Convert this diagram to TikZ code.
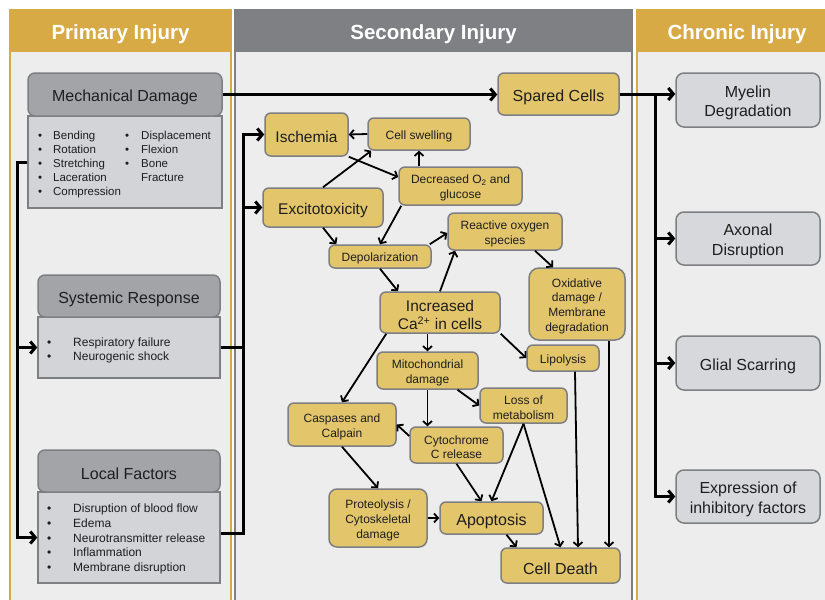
\documentclass[tikz,border=0pt]{standalone}
\usepackage{fontspec}
\setmainfont{Liberation Sans}
\usetikzlibrary{arrows.meta,calc}
\definecolor{gold}{RGB}{216,170,70}
\definecolor{hdgray}{RGB}{126,128,132}
\definecolor{bg}{RGB}{237,237,237}
\definecolor{bord}{RGB}{125,127,130}
\definecolor{ygold}{RGB}{227,197,108}
\definecolor{dkbox}{RGB}{162,164,167}
\definecolor{ltbox}{RGB}{210,212,215}
\definecolor{chbox}{RGB}{214,216,219}
\definecolor{txt}{RGB}{30,30,30}
\newcommand\myBig{\fontsize{16}{19}\selectfont}
\newcommand\myMid{\fontsize{15.5}{18}\selectfont}
\newcommand\mySm{\fontsize{12}{14.8}\selectfont}
\newcommand\myDn{\rule{0pt}{1.1em}}
\tikzset{
 hdtext/.style={text=white, font=\bfseries\fontsize{20.5}{24}\selectfont, anchor=base, inner sep=0pt},
 wh/.style 2 args={minimum width=#1pt, minimum height=#2pt},
 ybox/.style={draw=bord, fill=ygold, line width=1.5pt, rounded corners=6pt, align=center, inner sep=0pt, text=txt, execute at begin node=\myDn},
 gbox/.style={draw=bord, fill=dkbox, line width=1.5pt, rounded corners=7pt, inner sep=0pt, text=txt, font=\myBig, execute at begin node=\myDn},
 lbox/.style={draw=bord, fill=ltbox, line width=1.5pt, inner sep=0pt},
 cbox/.style={draw=bord, fill=chbox, line width=1.5pt, rounded corners=8pt, align=center, inner sep=0pt, text=txt, font=\fontsize{16}{19.5}\selectfont, execute at begin node=\myDn},
 ltext/.style={inner sep=0pt, anchor=base west, text=txt},
 thk/.style={line width=3pt, -{Straight Barb[length=5pt,width=12pt]}},
 thkl/.style={line width=3pt},
 thn/.style={line width=1.8pt, -{Straight Barb[length=4pt,width=9pt]}},
}
\begin{document}
\begin{tikzpicture}[x=1pt,y=-1pt]
\useasboundingbox (0,0) rectangle (825,600);
\fill[white] (0,0) rectangle (825,600);
% panels
\fill[bg] (10,10) rectangle (231,606);
\fill[gold] (10,10) rectangle (231,52);
\draw[gold, line width=1.5pt] (10,10) rectangle (231,606);
\fill[bg] (235,10) rectangle (632,606);
\fill[hdgray] (235,10) rectangle (632,52);
\draw[bord, line width=1.5pt] (235,10) rectangle (632,606);
\fill[bg] (637,10) rectangle (840,606);
\fill[gold] (637,10) rectangle (840,52);
\draw[gold, line width=1.5pt] (637,10) rectangle (840,606);
\node[hdtext] (h1) at (120.5,39.5) {Primary Injury};
\node[hdtext] (h2) at (433.5,39.5) {Secondary Injury};
\node[hdtext] (h3) at (737,39.5) {Chronic Injury};

% primary
\node[lbox, wh={194}{92}] (mechl) at (125,162) {};
\node[gbox, wh={194}{43}] (mech) at (125,94.5) {Mechanical Damage};
\node[ltext, font=\fontsize{11.5}{14}\selectfont] (mechA) at (38,139) {\begin{tabular}[t]{@{}p{15pt}@{}l@{}}•&Bending\\•&Rotation\\•&Stretching\\•&Laceration\\•&Compression\end{tabular}};
\node[ltext, font=\fontsize{11.5}{14}\selectfont] (mechB) at (125,139) {\begin{tabular}[t]{@{}p{16pt}@{}l@{}}•&Displacement\\•&Flexion\\•&Bone\\&Fracture\end{tabular}};

\node[lbox, wh={182}{61}] (sysl) at (129,347.5) {};
\node[gbox, wh={182}{42}] (sys) at (129,296) {Systemic Response};
\node[ltext, font=\fontsize{12}{14}\selectfont] (sysA) at (47,346) {\begin{tabular}[t]{@{}p{26pt}@{}l@{}}•&Respiratory failure\\•&Neurogenic shock\end{tabular}};

\node[lbox, wh={182}{91}] (locl) at (129,537.5) {};
\node[gbox, wh={182}{42}] (loc) at (129,471) {Local Factors};
\node[ltext, font=\fontsize{12}{14.75}\selectfont] (locA) at (47,512.5) {\begin{tabular}[t]{@{}p{26pt}@{}l@{}}•&Disruption of blood flow\\•&Edema\\•&Neurotransmitter release\\•&Inflammation\\•&Membrane disruption\end{tabular}};

% secondary
\node[ybox, wh={121}{42}, font=\myBig] (spared) at (558.5,94) {Spared Cells};
\node[ybox, wh={83}{43}, font=\myMid] (isch) at (306.5,134.5) {Ischemia};
\node[ybox, wh={102}{32}, font=\mySm] (swell) at (419,134) {Cell swelling};
\node[ybox, wh={123}{38}, font=\mySm] (decr) at (460.5,186) {\myDn Decreased O\textsubscript{2} and\\glucose};
\node[ybox, wh={120}{39}, font=\myMid] (excit) at (323,207.5) {Excitotoxicity};
\node[ybox, wh={114}{37}, font=\mySm] (ros) at (505,231.5) {\myDn Reactive oxygen\\species};
\node[ybox, wh={102}{23}, font=\mySm] (depol) at (380,256.5) {Depolarization};
\node[ybox, wh={120}{41}, font=\myMid] (ca) at (440,312.5) {\myDn Increased\\Ca\textsuperscript{2+} in cells};
\node[ybox, wh={96}{72}, font=\mySm, rounded corners=10pt] (oxid) at (577,304) {\myDn Oxidative\\damage /\\Membrane\\degradation};
\node[ybox, wh={72}{26}, font=\mySm] (lipo) at (563,358) {Lipolysis};
\node[ybox, wh={101}{37}, font=\mySm] (mito) at (427.5,370.5) {\myDn Mitochondrial\\damage};
\node[ybox, wh={87}{35}, font=\mySm] (loss) at (523.5,405.5) {\myDn Loss of\\metabolism};
\node[ybox, wh={108}{43}, font=\mySm] (casp) at (342,424.5) {\myDn Caspases and\\Calpain};
\node[ybox, wh={93}{36}, font=\mySm] (cyto) at (456.5,445) {\myDn Cytochrome\\C release};
\node[ybox, wh={98}{58}, font=\mySm, rounded corners=8pt] (prot) at (378,518) {\myDn Proteolysis /\\Cytoskeletal\\damage};
\node[ybox, wh={103}{32}, font=\myBig] (apop) at (491.5,518) {Apoptosis};
\node[ybox, wh={119}{35}, font=\myBig] (death) at (560.5,565.5) {Cell Death};

% chronic
\node[cbox, wh={144}{54}] (myel) at (748,100) {\myDn Myelin\\Degradation};
\node[cbox, wh={144}{53}] (axon) at (748,238.5) {\myDn Axonal\\Disruption};
\node[cbox, wh={144}{54}] (glial) at (748,363) {Glial Scarring};
\node[cbox, wh={144}{53}] (expr) at (748,496.5) {\myDn Expression of\\inhibitory factors};

% thick connectors
\coordinate (lb) at (17,0);
\coordinate (rb) at (243,0);
\coordinate (cb) at (655,0);
\draw[thk] (mechl.west) -| (lb |- sysl.west) -- (sysl.west);
\draw[thk] (mechl.west) -| (lb |- locl.west) -- (locl.west);
\draw[thk] ([yshift=4pt]locl.east) -| (rb |- isch.west) -- (isch.west);
\draw[thkl] (sysl.east) -- (rb |- sysl.east);
\draw[thk] (rb |- excit.west) -- (excit.west);
\draw[thk] (mech.east) -- (mech.east -| spared.west);
\draw[thk] (spared.east) -- (spared.east -| myel.west);
\draw[thk] (spared.east -| cb) |- (axon.west);
\draw[thk] (spared.east -| cb) |- (glial.west);
\draw[thk] (spared.east -| cb) |- (expr.west);

% thin connectors
\draw[thn] (swell.west) -- (isch.east);
\draw[thn] (isch.south east) -- ([yshift=9pt]decr.west);
\draw[thn] (excit.north) -- ([xshift=4pt]swell.south west);
\draw[thn] (decr.north -| swell.south) -- (swell.south);
\draw[thn] ([xshift=3pt]decr.south west) -- (depol.north);
\draw[thn] (excit.south) -- ([xshift=8pt]depol.north west);
\draw[thn] ([xshift=-2pt]depol.north east) -- ([yshift=-1.5pt]ros.west);
\draw[thn] ([xshift=30pt]ros.south) -- ([xshift=-24pt]oxid.north);
\draw[thn] (depol.south) -- ([xshift=-42pt]ca.north);
\draw[thn] (ca.north) -- ([xshift=-50pt]ros.south);
\draw[thn] (ca.south -| mito.north) -- (mito.north);
\draw[thn] (ca.south east) -- (lipo.west);
\draw[thn] ([xshift=7pt]ca.south west) -- (casp.north);
\draw[thn] (mito.south) -- (mito.south |- cyto.north);
\draw[thn] ([xshift=30pt]mito.south) -- (loss.west);
\draw[thn] ([yshift=9pt]cyto.west) -- (casp.east);
\draw[thn] (casp.south) -- (prot.north);
\draw[thn] (prot.east) -- (apop.west);
\draw[thn] (cyto.south) -- ([xshift=-10pt]apop.north);
\draw[thn] (loss.south) -- (apop.north);
\draw[thn] (loss.south) -- (death.north);
\draw[thn] ([xshift=15pt]apop.south) -- ([xshift=-44pt]death.north);
\draw[thn] ([xshift=12pt]lipo.south) -- ([xshift=17.5pt]death.north);
\draw[thn] ([xshift=32pt]oxid.south) -- ([xshift=48.5pt]death.north);
\end{tikzpicture}
\end{document}
